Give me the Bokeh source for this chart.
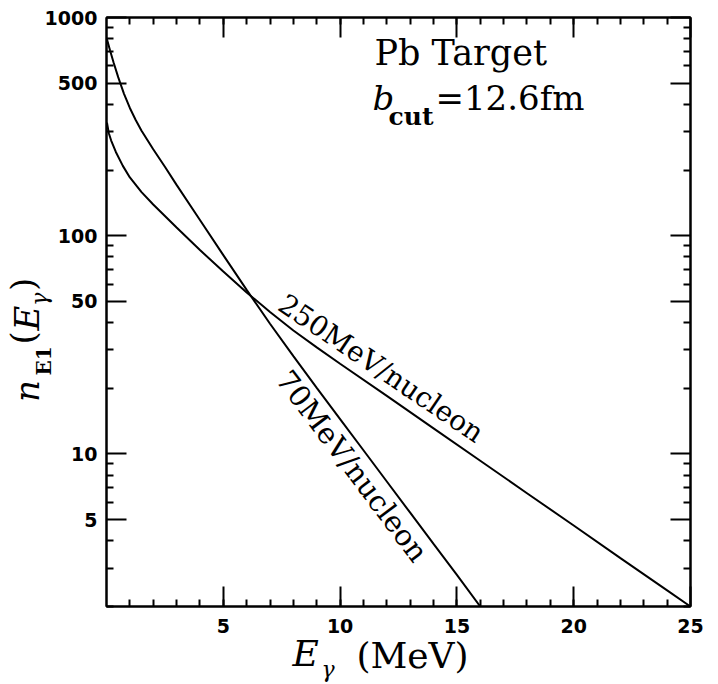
import math
import numpy as np
from bokeh.plotting import figure
from bokeh.models import (FixedTicker, LinearAxis, LogAxis, Label,
                          NumeralTickFormatter, CustomJSTickFormatter)
from bokeh.embed import file_html
from bokeh.resources import INLINE

# ---- data ----
e_70 = [0.02, 0.15, 0.3, 0.5, 0.75, 1.0, 1.25, 1.5, 2.0, 2.5, 3.0, 4.0, 5.0, 6.0,
        7.0, 8.0, 9.0, 10, 11, 12, 13, 14, 15, 16]
n_70 = [794, 708, 624, 533, 447, 385, 339, 303, 249, 207, 171, 118, 81.5, 56.5,
        39.5, 28.1, 20.1, 14.45, 10.4, 7.48, 5.38, 3.87, 2.79, 2.0]

e_250 = [0.02, 0.1, 0.2, 0.4, 0.7, 1.0, 1.5, 2.0, 3.0, 4.0, 5.0, 6.0, 7.0, 8.0, 9.0,
         10, 12, 14, 16, 18, 20, 22, 24, 25]
n_250 = [330, 295, 273, 242, 209, 185, 158.5, 139, 109, 86, 68.5, 55, 44.7, 36.8, 30.8,
         25.9, 18.45, 13.1, 9.31, 6.61, 4.70, 3.33, 2.37, 2.0]

x_major = [5, 10, 15, 20, 25]
x_minor = list(range(1, 25))
y_major = [5, 10, 50, 100, 500, 1000]
y_minor = [2, 3, 4, 6, 7, 8, 9, 20, 30, 40, 60, 70, 80, 90, 200, 300, 400, 600, 700, 800, 900]

label_70 = "70MeV/nucleon"
label_250 = "250MeV/nucleon"

# axis-title pieces: (text, position along the axis in data units)
xtitle_italic = [("E", 8.52)]
xtitle_sub = [("γ", 9.49)]
xtitle_upright = [("(MeV)", 13.1)]
ytitle_italic = [("n", 19.4), ("E", 41.9)]
ytitle_sub_bold = [("E1", 26.7)]
ytitle_sub = [("γ", 51.2)]
ytitle_upright = [("(", 34.0), (")", 59.8)]

SERIF = "DejaVu Serif"
SANS = "DejaVu Sans"

W, H = 718, 684
BL, BR, BT, BB = 104, 28, 17, 77

p = figure(width=W, height=H, x_range=(0, 25), y_range=(2, 1000),
           y_axis_type="log", output_backend="svg", toolbar_location=None,
           min_border_left=BL, min_border_right=BR, min_border_top=BT, min_border_bottom=BB,
           background_fill_color="white", border_fill_color="white")
p.grid.visible = False
p.outline_line_color = "black"
p.outline_line_width = 2

p.add_layout(LinearAxis(), "above")
p.add_layout(LogAxis(), "right")

for ax in p.xaxis:
    ax.ticker = FixedTicker(ticks=x_major, minor_ticks=x_minor)
for ax in p.yaxis:
    ax.ticker = FixedTicker(ticks=y_major, minor_ticks=y_minor)
    ax.formatter = NumeralTickFormatter(format="0")

for ax in p.axis:
    ax.major_tick_in = 20
    ax.major_tick_out = 0
    ax.minor_tick_in = 7
    ax.minor_tick_out = 0
    ax.major_tick_line_width = 2
    ax.minor_tick_line_width = 2
    ax.major_tick_line_color = "black"
    ax.minor_tick_line_color = "black"
    ax.axis_line_width = 2
    ax.axis_line_color = "black"
    ax.major_label_text_font = SANS
    ax.major_label_text_font_style = "bold"
    ax.major_label_text_font_size = "19px"
    ax.major_label_text_color = "black"

NUM_STANDOFF_X, NUM_STANDOFF_Y = 12, 9
p.below[0].major_label_standoff = NUM_STANDOFF_X
p.left[0].major_label_standoff = NUM_STANDOFF_Y
for ax in (p.above[0], p.right[0]):
    ax.formatter = CustomJSTickFormatter(code="return ''")
    ax.major_label_text_font_size = "1px"
    ax.major_label_standoff = 0

p.line(e_70, n_70, line_color="black", line_width=2)
p.line(e_250, n_250, line_color="black", line_width=2)

# curve labels, anchored on the curves
def on_curve(x, xs, ys):
    return 10 ** np.interp(x, xs, np.log10(ys))

x250 = 11.3
p.add_layout(Label(x=x250, y=on_curve(x250, e_250, n_250), text=label_250, angle=-34, angle_units="deg",
                   text_align="center", text_baseline="bottom", x_offset=1.5, y_offset=2.5,
                   text_font=SERIF, text_font_size="28px", text_color="black"))
x70 = 11.15
p.add_layout(Label(x=x70, y=on_curve(x70, e_70, n_70), text=label_70, angle=-53, angle_units="deg",
                   text_align="center", text_baseline="top", x_offset=-1.2, y_offset=-0.9,
                   text_font=SERIF, text_font_size="29px", text_color="black"))

def sl(x, base, text, size, style="normal"):
    # base: wanted baseline height above the frame bottom
    p.add_layout(Label(x=x, y=base + 0.33 * size, x_units="screen", y_units="screen", text=text,
                       text_font=SERIF, text_font_size=f"{size}px", text_font_style=style,
                       text_align="left", text_baseline="alphabetic", text_color="black"))

# annotation in the upper right (frame-relative screen coordinates)
sl(268, 542, "Pb Target", 35)
sl(266, 497, "b", 34, "italic")
sl(282, 482, "cut", 25, "bold")
sl(329, 497, "=12.6fm", 34)

# ---- axis titles, built from label-only axes stacked outside the tick labels ----
HGT = 1.17        # line height (em) used by the axes for their size
ASC_B = 0.81      # box top -> baseline (em), below
DESC_L = 0.24     # baseline -> box edge (em), left (rotated)

def text_axis(side, pieces, size, style, standoff):
    ax = LinearAxis() if side == "below" else LogAxis()
    pos = [q for _, q in pieces]
    txt = [t for t, _ in pieces]
    ax.ticker = FixedTicker(ticks=pos, minor_ticks=[])
    ax.formatter = CustomJSTickFormatter(args=dict(pos=pos, labels=txt), code="""
        let best = 0;
        for (let i = 0; i < pos.length; i++)
            if (Math.abs(pos[i] - tick) < Math.abs(pos[best] - tick)) best = i;
        return labels[best];
    """)
    ax.major_tick_in = 0
    ax.major_tick_out = 0
    ax.minor_tick_in = 0
    ax.minor_tick_out = 0
    ax.axis_line_color = None
    ax.major_tick_line_color = None
    ax.minor_tick_line_color = None
    ax.major_label_text_font = SERIF
    ax.major_label_text_font_size = f"{size}px"
    ax.major_label_text_font_style = style
    ax.major_label_text_color = "black"
    ax.major_label_standoff = standoff
    if side == "left":
        ax.major_label_orientation = "parallel"
    p.add_layout(ax, side)
    return standoff + HGT * size

def safe_standoff(want, size):
    # never let a stacked panel get a negative size
    return max(int(round(want)), -int(math.floor(HGT * size)))

# bottom: wanted baselines (canvas px from the top)
edge = (H - BB) + NUM_STANDOFF_X + HGT * 19
for pieces, size, style, base in [(xtitle_italic, 36, "italic", 667),
                                  (xtitle_upright, 36, "normal", 667),
                                  (xtitle_sub, 22, "italic", 676)]:
    top = base - ASC_B * size
    edge += text_axis("below", pieces, size, style, safe_standoff(top - edge, size))

# left: wanted baselines (canvas px from the left edge)
edge = BL - (NUM_STANDOFF_Y + 4 * 0.696 * 19)
for pieces, size, style, base in [(ytitle_sub_bold, 20, "bold", 52),
                                  (ytitle_sub, 22, "italic", 51),
                                  (ytitle_italic, 34, "italic", 46),
                                  (ytitle_upright, 34, "normal", 46)]:
    near = base + DESC_L * size
    edge -= text_axis("left", pieces, size, style, safe_standoff(edge - near, size))

open("out.html", "w").write(file_html(p, INLINE))
